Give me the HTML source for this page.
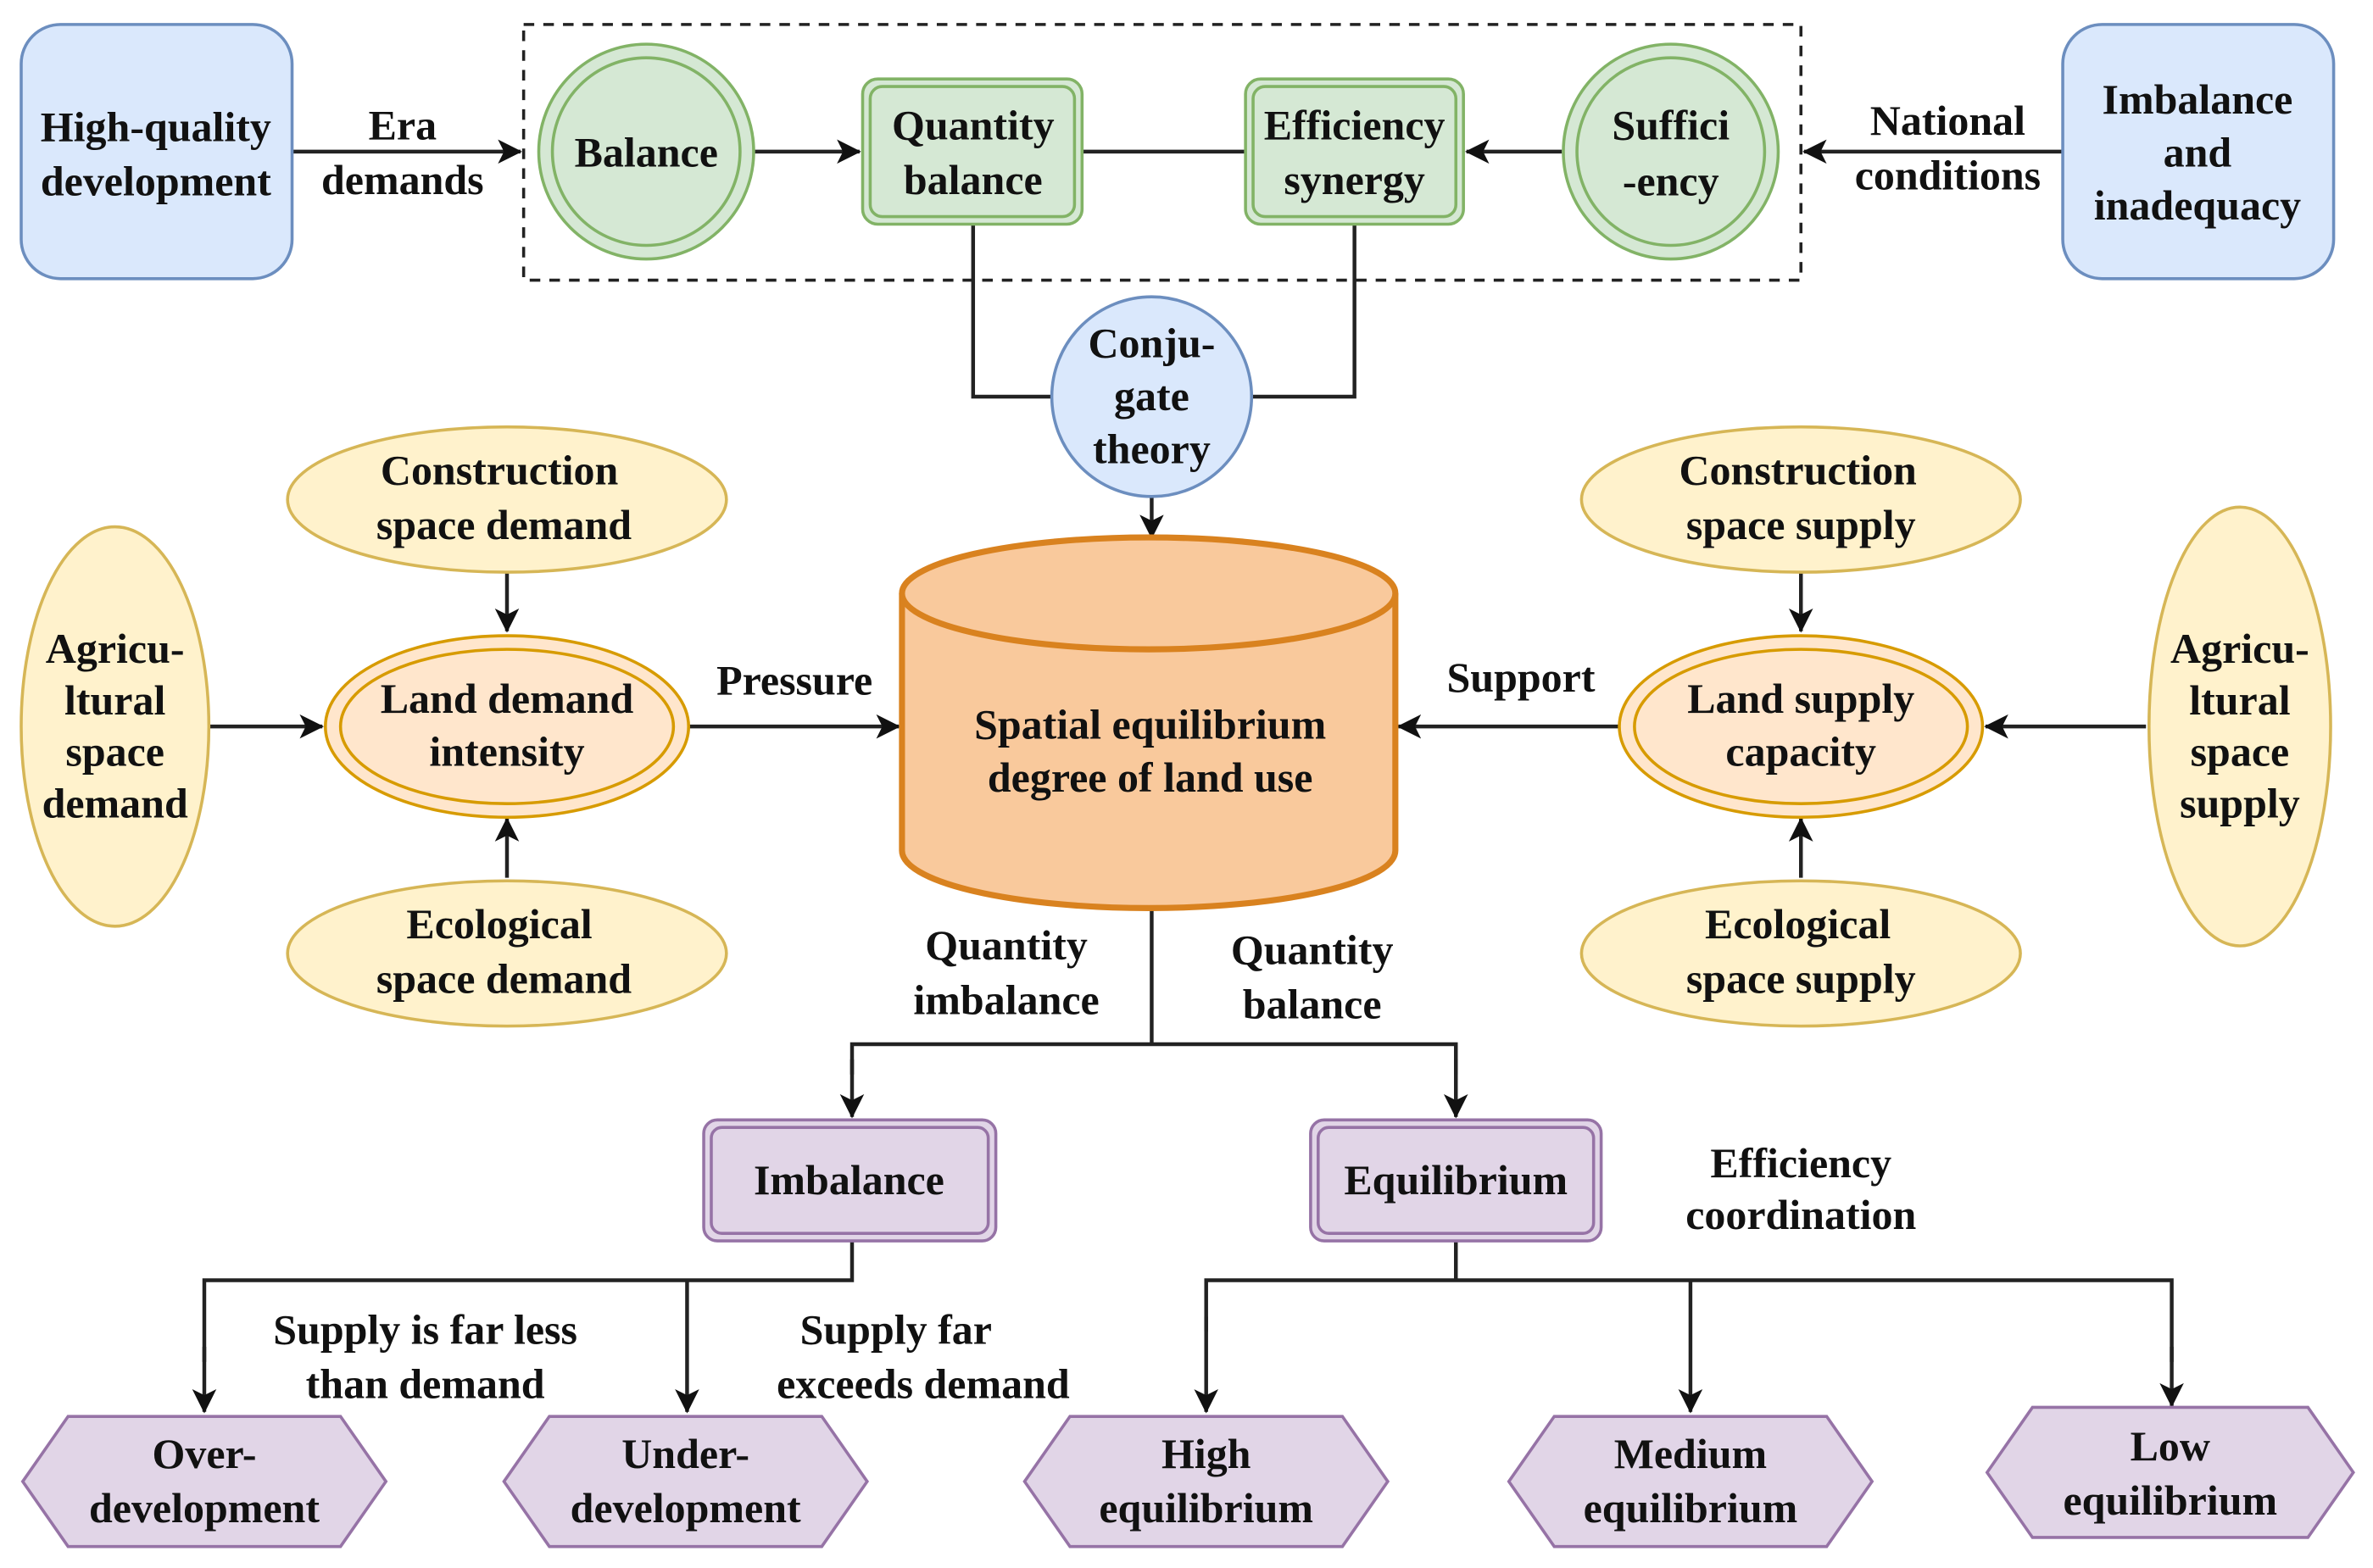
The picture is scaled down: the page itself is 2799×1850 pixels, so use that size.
<!DOCTYPE html>
<html><head><meta charset="utf-8"><style>
html,body{margin:0;padding:0;background:#fff;}
svg{display:block;}
text{font-family:"Liberation Serif",serif;font-weight:bold;font-size:28px;fill:#111;text-anchor:middle;}
</style></head><body>
<svg width="2799" height="1850" viewBox="0 0 1568 1036" xmlns="http://www.w3.org/2000/svg">
<defs>
<marker id="a" markerWidth="16" markerHeight="16" refX="15" refY="8" orient="auto" markerUnits="userSpaceOnUse" viewBox="0 0 16 16">
<path d="M0,0 L16,8 L0,16 L4,8 Z" fill="#111"/></marker>
</defs>
<g stroke="#222" stroke-width="2.5" fill="none">
<rect x="346" y="16" width="844" height="169" stroke-dasharray="7,6" stroke-width="2"/>
<line x1="193" y1="100" x2="344" y2="100" marker-end="url(#a)"/>
<line x1="498" y1="100" x2="568" y2="100" marker-end="url(#a)"/>
<line x1="715" y1="100" x2="823" y2="100"/>
<line x1="1032" y1="100" x2="969" y2="100" marker-end="url(#a)"/>
<line x1="1363" y1="100" x2="1192" y2="100" marker-end="url(#a)"/>
<polyline points="643,148 643,262 695,262"/>
<polyline points="895,148 895,262 827,262"/>
<line x1="761" y1="328" x2="761" y2="355" marker-end="url(#a)"/>
<line x1="335" y1="378" x2="335" y2="417" marker-end="url(#a)"/>
<line x1="335" y1="580" x2="335" y2="541" marker-end="url(#a)"/>
<line x1="138" y1="480" x2="213" y2="480" marker-end="url(#a)"/>
<line x1="455" y1="480" x2="594" y2="480" marker-end="url(#a)"/>
<line x1="1190" y1="378" x2="1190" y2="417" marker-end="url(#a)"/>
<line x1="1190" y1="580" x2="1190" y2="541" marker-end="url(#a)"/>
<line x1="1418" y1="480" x2="1312" y2="480" marker-end="url(#a)"/>
<line x1="1070" y1="480" x2="924" y2="480" marker-end="url(#a)"/>
<polyline points="761,600 761,690"/>
<polyline points="563,710 563,690 962,690 962,710" />
<line x1="563" y1="700" x2="563" y2="738" marker-end="url(#a)"/>
<line x1="962" y1="700" x2="962" y2="738" marker-end="url(#a)"/>
<polyline points="563,820 563,846 135,846 135,900"/>
<line x1="135" y1="890" x2="135" y2="933" marker-end="url(#a)"/>
<line x1="454" y1="846" x2="454" y2="933" marker-end="url(#a)"/>
<polyline points="962,820 962,846"/>
<polyline points="797,880 797,846 1435,846 1435,900"/>
<line x1="797" y1="870" x2="797" y2="933" marker-end="url(#a)"/>
<line x1="1117" y1="846" x2="1117" y2="933" marker-end="url(#a)"/>
<line x1="1435" y1="890" x2="1435" y2="929" marker-end="url(#a)"/>
</g>
<rect x="14" y="16" width="179" height="168" rx="26" fill="#dae8fc" stroke="#6c8ebf" stroke-width="2"/>
<rect x="1363" y="16" width="179" height="168" rx="26" fill="#dae8fc" stroke="#6c8ebf" stroke-width="2"/>
<g fill="#d5e8d4" stroke="#82b366" stroke-width="2">
<circle cx="427" cy="100" r="71"/><circle cx="427" cy="100" r="62" fill="none"/>
<circle cx="1104" cy="100" r="71"/><circle cx="1104" cy="100" r="62" fill="none"/>
<rect x="570" y="52" width="145" height="96" rx="10"/><rect x="575" y="57" width="135" height="86" rx="8" fill="none"/>
<rect x="823" y="52" width="144" height="96" rx="10"/><rect x="828" y="57" width="134" height="86" rx="8" fill="none"/>
</g>
<circle cx="761" cy="262" r="66" fill="#dae8fc" stroke="#6c8ebf" stroke-width="2"/>
<path d="M596,392 L596,562 A163,38 0 0 0 922,562 L922,392" fill="#f9c99c" stroke="#d9821f" stroke-width="4"/>
<ellipse cx="759" cy="392" rx="163" ry="37" fill="#f9c99c" stroke="#d9821f" stroke-width="4"/>
<g fill="#fff2cc" stroke="#d6b656" stroke-width="2">
<ellipse cx="335" cy="330" rx="145" ry="48"/>
<ellipse cx="335" cy="630" rx="145" ry="48"/>
<ellipse cx="76" cy="480" rx="62" ry="132"/>
<ellipse cx="1190" cy="330" rx="145" ry="48"/>
<ellipse cx="1190" cy="630" rx="145" ry="48"/>
<ellipse cx="1480" cy="480" rx="60" ry="145"/>
</g>
<g fill="#ffe6cc" stroke="#d79b00" stroke-width="2">
<ellipse cx="335" cy="480" rx="120" ry="60"/><ellipse cx="335" cy="480" rx="110" ry="51" fill="none"/>
<ellipse cx="1190" cy="480" rx="120" ry="60"/><ellipse cx="1190" cy="480" rx="110" ry="51" fill="none"/>
</g>
<g fill="#e1d5e7" stroke="#9673a6" stroke-width="2">
<rect x="465" y="740" width="193" height="80" rx="9"/><rect x="470" y="745" width="183" height="70" rx="7" fill="none"/>
<rect x="866" y="740" width="192" height="80" rx="9"/><rect x="871" y="745" width="182" height="70" rx="7" fill="none"/>
<polygon points="15,979 45,936 225,936 255,979 225,1022 45,1022"/>
<polygon points="333,979 363,936 543,936 573,979 543,1022 363,1022"/>
<polygon points="677,979 707,936 887,936 917,979 887,1022 707,1022"/>
<polygon points="997,979 1027,936 1207,936 1237,979 1207,1022 1027,1022"/>
<polygon points="1313,973 1343,930 1525,930 1555,973 1525,1016 1343,1016"/>
</g>
<text x="103" y="93">High-quality</text><text x="103" y="129">development</text>
<text x="266" y="92">Era</text><text x="266" y="128">demands</text>
<text x="427" y="110">Balance</text>
<text x="643" y="92">Quantity</text><text x="643" y="128">balance</text>
<text x="895" y="92">Efficiency</text><text x="895" y="128">synergy</text>
<text x="1104" y="92">Suffici</text><text x="1104" y="129">-ency</text>
<text x="1287" y="89">National</text><text x="1287" y="125">conditions</text>
<text x="1452" y="75">Imbalance</text><text x="1452" y="110">and</text><text x="1452" y="145">inadequacy</text>
<text x="761" y="236">Conju-</text><text x="761" y="271">gate</text><text x="761" y="306">theory</text>
<text x="330" y="320">Construction</text><text x="333" y="356">space demand</text>
<text x="76" y="438">Agricu-</text><text x="76" y="472">ltural</text><text x="76" y="506">space</text><text x="76" y="540">demand</text>
<text x="335" y="471">Land demand</text><text x="335" y="506">intensity</text>
<text x="330" y="620">Ecological</text><text x="333" y="656">space demand</text>
<text x="525" y="459">Pressure</text>
<text x="760" y="488">Spatial equilibrium</text><text x="760" y="523">degree of land use</text>
<text x="1005" y="457">Support</text>
<text x="1188" y="320">Construction</text><text x="1190" y="356">space supply</text>
<text x="1190" y="471">Land supply</text><text x="1190" y="506">capacity</text>
<text x="1188" y="620">Ecological</text><text x="1190" y="656">space supply</text>
<text x="1480" y="438">Agricu-</text><text x="1480" y="472">ltural</text><text x="1480" y="506">space</text><text x="1480" y="540">supply</text>
<text x="665" y="634">Quantity</text><text x="665" y="670">imbalance</text>
<text x="867" y="637">Quantity</text><text x="867" y="673">balance</text>
<text x="561" y="789">Imbalance</text>
<text x="962" y="789">Equilibrium</text>
<text x="1190" y="778">Efficiency</text><text x="1190" y="812">coordination</text>
<text x="281" y="888">Supply is far less</text><text x="281" y="924">than demand</text>
<text x="592" y="888">Supply far</text><text x="610" y="924">exceeds demand</text>
<text x="135" y="970">Over-</text><text x="135" y="1006">development</text>
<text x="453" y="970">Under-</text><text x="453" y="1006">development</text>
<text x="797" y="970">High</text><text x="797" y="1006">equilibrium</text>
<text x="1117" y="970">Medium</text><text x="1117" y="1006">equilibrium</text>
<text x="1434" y="965">Low</text><text x="1434" y="1001">equilibrium</text>
</svg>
</body></html>
